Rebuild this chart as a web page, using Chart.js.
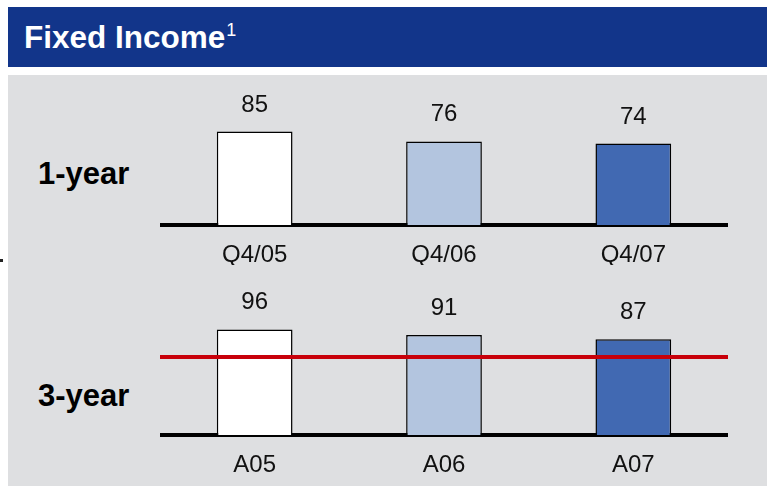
<!DOCTYPE html>
<html>
<head>
<meta charset="utf-8">
<script src="https://cdn.jsdelivr.net/npm/chart.js@4/dist/chart.umd.min.js"></script>
<style>
  html, body { margin: 0; padding: 0; background: #fff; width: 767px; height: 486px; overflow: hidden;
    font-family: "Liberation Sans", Arial, sans-serif; }
  #header { position: absolute; left: 8px; top: 7px; width: 759px; height: 60px; background: #12358a; }
  #title { position: absolute; left: 24px; top: 22px; color: #fff; font-weight: bold; font-size: 31.5px; line-height: 31px; white-space: nowrap; }
  #title span { font-weight: normal; font-size: 18px; position: relative; top: -12px; margin-left: 1px; }
  #panel { position: absolute; left: 8px; top: 75px; width: 759px; height: 411px; background: #dedfe1; }
  .row { position: absolute; left: 38px; font-weight: bold; font-size: 31px; line-height: 31px; color: #000; }
  #dot { position: absolute; left: 0; top: 259px; width: 3px; height: 3px; background: #222; }
  canvas.chart { position: absolute; left: 160px; }
</style>
</head>
<body>
<div id="header"></div>
<div id="title">Fixed Income<span>1</span></div>
<div id="panel"></div>
<div id="dot"></div>
<div class="row" style="top:158px">1-year</div>
<div class="row" style="top:380px">3-year</div>
<canvas id="c1" class="chart" width="568" height="190" style="top:75px"></canvas>
<canvas id="c2" class="chart" width="568" height="190" style="top:285px"></canvas>
<script>
// One-year scores by quarter
const oneYearLabels = ['Q4/05', 'Q4/06', 'Q4/07'];
const oneYearValues = [85, 76, 74];
// Three-year scores by year
const threeYearLabels = ['A05', 'A06', 'A07'];
const threeYearValues = [96, 91, 87];
// Reference level shown as a red line on the three-year panel
const threeYearTarget = 71;

const barColors = ['#ffffff', '#b3c5df', '#4169b2'];
const FONT = '"Liberation Sans", Arial, sans-serif';

const valueLabels = {
  id: 'valueLabels',
  afterDatasetsDraw(chart) {
    const ctx = chart.ctx;
    const meta = chart.getDatasetMeta(0);
    const data = chart.data.datasets[0].data;
    ctx.save();
    ctx.font = '24px ' + FONT;
    ctx.fillStyle = '#111';
    ctx.textAlign = 'center';
    ctx.textBaseline = 'alphabetic';
    meta.data.forEach((bar, i) => {
      ctx.fillText(String(data[i]), bar.x, bar.y - 20);
    });
    ctx.restore();
  }
};

const targetLine = {
  id: 'targetLine',
  afterDatasetsDraw(chart, args, opts) {
    if (opts.value == null) return;
    const { ctx, chartArea, scales } = chart;
    const y = scales.y.getPixelForValue(opts.value);
    ctx.save();
    ctx.strokeStyle = '#c8000a';
    ctx.lineWidth = 4;
    ctx.beginPath();
    ctx.moveTo(chartArea.left, y);
    ctx.lineTo(chartArea.right, y);
    ctx.stroke();
    ctx.restore();
  }
};

function makeChart(id, labels, values, target) {
  return new Chart(document.getElementById(id), {
    type: 'bar',
    data: {
      labels: labels,
      datasets: [{
        data: values,
        backgroundColor: barColors,
        borderColor: '#000',
        borderWidth: 1.5,
        barPercentage: 0.4,
        categoryPercentage: 1
      }]
    },
    options: {
      responsive: false,
      animation: false,
      layout: { padding: { top: 40, left: 0, right: 0, bottom: 0 } },
      plugins: {
        legend: { display: false },
        tooltip: { enabled: false },
        targetLine: { value: target }
      },
      scales: {
        y: { display: false, min: 0, max: 100 },
        x: {
          z: 1,
          grid: { display: false, drawTicks: false },
          border: { display: true, color: '#000', width: 4 },
          ticks: { color: '#111', font: { family: FONT, size: 24 }, padding: 16, maxRotation: 0, autoSkip: false },
          afterFit(axis) { axis.height = 40; }
        }
      }
    },
    plugins: [valueLabels, targetLine]
  });
}

makeChart('c1', oneYearLabels, oneYearValues, null);
makeChart('c2', threeYearLabels, threeYearValues, threeYearTarget);
</script>
</body>
</html>
